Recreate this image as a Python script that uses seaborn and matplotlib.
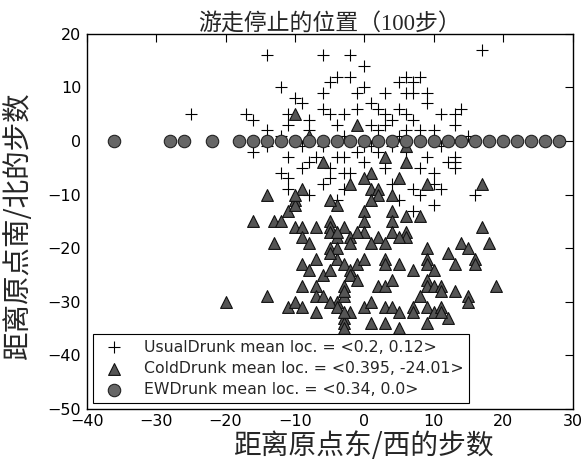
import matplotlib
matplotlib.use("Agg")
import matplotlib.pyplot as plt
import seaborn as sns
import pandas as pd

# Final positions of three kinds of drunkards after 100 steps
usual_x = [-14, -6, -2, 0, 17, -25, -17, -16, -12, -10, -9, -6, -6, -5, -4, -5, -11, -11, -8, -14,
           -4, -3, -1, 0, -1, 6, 8, 5, 7, 3, 6, 7, 9, 9, 2, 3, 5, 6, 4, 7,
           11, 13, 14, 13, 10, 1, 2, 6, 8, 15, -8, -3, -12, 5, 3, -2, 1,
           -16, -11, -9, -8, -7, -12, -11, -11, -6, -5, -8, -4, -3, -3, -2, -5, -4, 0, -3,
           6, 9, 13, 13, 12, 13, 8, 10, 7, 8, 11, 16, 10, 7, 3, 2, 4, 5, 10, 0, -1, 1, 4,
           -6, -9, 11, -14]
usual_y = [16, 16, 16, 14, 17, 5, 5, 4, 10, 8, 7, 9, 6, 5, 12, 11, 5, 3, 4, 2,
           3, 5, 9, 10, 6, 12, 12, 11, 11, 9, 9, 9, 9, 7, 6, 5, 6, 5, 4, 4,
           5, 5, 6, 3, 2, 3, 2, 2, 2, 1, 2, 1, 1, 1, 3, 12, 7,
           -2, -3, -5, -4, -3, -6, -7, -9, -8, -7, -10, -11, -9, -3, -6, -5, -3, -4, -6,
           -2, -3, -4, -3, -4, -5, -5, -6, -9, -10, -9, -10, -12, -13, -5, -2, -8, -11, -8, -1, -2, -1, -1,
           -1, -1, -1, -1]

cold_x = [-10, -1, -8, 6, -6, 3, 6, 1, -2, 0, 5, 9, 17, 1, 2, 2, 4, 1, -4, 0,
          4, 6, 8, 0, 4, -3, 0, 2, 4, 6, 6, 17, -4, -2, -2, 1, 3, 5, 9, 9,
          12, 14, 15, 18, 16, 16, 13, -4, -3, -2, -1, 0, 3, 3, 5, 7, 9, 10, -3, 2,
          3, 4, 9, 9, 10, 11, 11, 13, 15, 19, -4, -3, -2, 0, 1, 3, 4, 5, 7, 8,
          9, 10, 11, 12, -3, 1, 3, 5, 9, 15, 7, 11, -3,
          -14, -9, -10, -11, -16, -13, -12, -10, -9, -7, -5, -5, -9, -8, -13, -5, -7, -9, -8, -6,
          -5, -9, -7, -20, -14, -11, -10, -9, -7, -7, -6, -5, -4, -5, -4, -4, -5, -5, -10, -10,
          -1, -2, -1, -3, -3, -3]
cold_y = [5, 3, 1, -1, -4, -3, -4, -6, -8, -7, -7, -8, -8, -9, -9, -10, -10, -11, -12, -13,
          -13, -14, -14, -15, -15, -16, -17, -18, -17, -17, -18, -16, -18, -18, -19, -19, -19, -18, -20, -22,
          -21, -19, -20, -19, -22, -23, -23, -22, -23, -24, -23, -22, -22, -23, -23, -24, -23, -24, -27, -27,
          -27, -26, -26, -27, -27, -27, -28, -28, -29, -27, -30, -29, -32, -31, -30, -31, -31, -32, -31, -29,
          -31, -32, -31, -33, -33, -34, -34, -35, -34, -30, -32, -32, -34,
          -10, -9, -11, -13, -15, -15, -15, -16, -16, -16, -15, -16, -18, -19, -19, -20, -22, -23, -24, -25,
          -24, -27, -27, -30, -29, -31, -30, -31, -32, -29, -29, -30, -31, -17, -17, -20, -21, -11, -12, -10,
          -17, -25, -26, -28, -32, -35]

ew_x = [-36, -28, -26, -22, -18, -16, -14, -12, -10, -8, -6, -4, -2, 0, 2, 4, 6, 8, 10,
        12, 14, 16, 18, 20, 22, 24, 26, 28]
ew_y = [0] * len(ew_x)

labels = ["UsualDrunk mean loc. = <0.2, 0.12>",
          "ColdDrunk mean loc. = <0.395, -24.01>",
          "EWDrunk mean loc. = <0.34, 0.0>"]

x_ticks = [-40, -30, -20, -10, 0, 10, 20, 30]
y_ticks = [-50, -40, -30, -20, -10, 0, 10, 20]

title = "游走停止的位置（100步）"
x_label = "距离原点东/西的步数"
y_label = "距离原点南/北的步数"

sns.set_style("white")
plt.rcParams["font.family"] = ["DejaVu Sans", "Noto Sans CJK SC"]
plt.rcParams["axes.unicode_minus"] = True

fig = plt.figure(figsize=(5.86, 4.63), dpi=100)
ax = fig.add_axes([0.148, 0.117, 0.829, 0.81])

usual = pd.DataFrame({"x": usual_x, "y": usual_y})
cold = pd.DataFrame({"x": cold_x, "y": cold_y})
ew = pd.DataFrame({"x": ew_x, "y": ew_y})

sns.scatterplot(data=usual, x="x", y="y", ax=ax, marker="+", color="black",
                s=72, linewidth=0.8, label=labels[0], zorder=2)
sns.scatterplot(data=cold, x="x", y="y", ax=ax, marker="^", color="#555555",
                edgecolor="#111111", linewidth=0.8, s=72, label=labels[1], zorder=3)
sns.scatterplot(data=ew, x="x", y="y", ax=ax, marker="o", color="#666666",
                edgecolor="#222222", linewidth=0.8, s=80, label=labels[2], zorder=4)

ax.set_xlim(-40, 30)
ax.set_ylim(-50, 20)
ax.set_xticks(x_ticks)
ax.set_yticks(y_ticks)
ax.tick_params(direction="in", length=6, width=0.8, top=True, right=True,
               labelsize=11.5, colors="black", pad=4)
for sp in ax.spines.values():
    sp.set_color("black")
    sp.set_linewidth(1.0)

ax.set_title(title, family=["Liberation Serif", "Noto Sans CJK SC"], fontsize=16.5, pad=3)
ax.set_xlabel(x_label, family=["Noto Sans CJK SC"], fontsize=20)
ax.set_ylabel(y_label, family=["Noto Sans CJK SC"], fontsize=20.5)
ax.xaxis.set_label_coords(0.57, -0.06)
ax.yaxis.set_label_coords(-0.142, 0.49)
ax.xaxis.label.set_va("top")
ax.yaxis.label.set_va("center")

leg = ax.legend(loc="lower left", fontsize=11.3, frameon=True, fancybox=False,
                framealpha=1, edgecolor="black", borderaxespad=0.4,
                handletextpad=0.9, labelspacing=0.4, borderpad=0.35,
                scatterpoints=1)
leg.get_frame().set_linewidth(0.8)

fig.savefig("out.png", dpi=100)
